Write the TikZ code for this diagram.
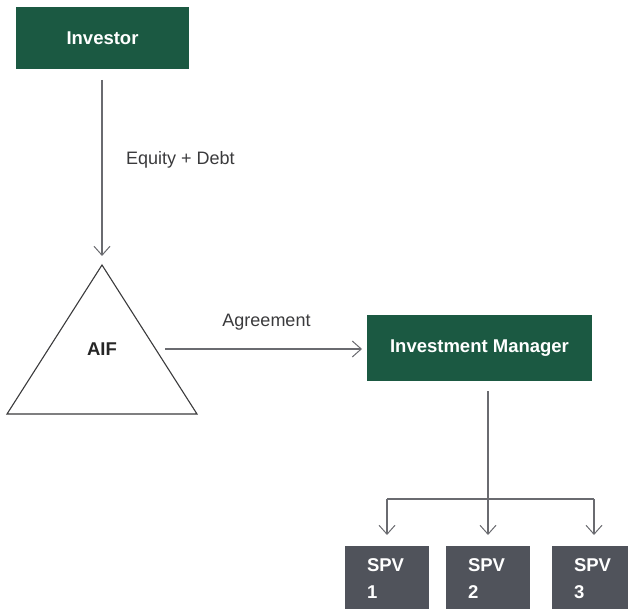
\documentclass[tikz,border=0pt]{standalone}
\usepackage{fontspec}
\setmainfont{Liberation Sans}
\usetikzlibrary{arrows.meta}
\definecolor{dgreen}{HTML}{1B5942}
\definecolor{spvgray}{HTML}{50535B}
\definecolor{linegray}{HTML}{6A6B70}
\definecolor{txtgray}{HTML}{3A3A3C}
\tikzset{
  greenbox/.style={fill=dgreen, text=white, font=\fontsize{18.5}{22}\selectfont\bfseries, inner sep=0pt},
  spvbox/.style={fill=spvgray, text=white, font=\fontsize{18.5}{27}\selectfont\bfseries, minimum width=84pt, minimum height=66pt, text width=40pt, inner xsep=22pt, inner ysep=0pt, align=left},
  conn/.style={draw=linegray, line width=1.1pt},
  arr/.style={conn, -{Straight Barb[length=9pt,width=16pt,line width=1pt]}},
  lbl/.style={text=txtgray, font=\fontsize{18}{22}\selectfont, inner sep=0pt}
}
\begin{document}
\begin{tikzpicture}[x=1pt,y=-1pt]
\useasboundingbox (0,0) rectangle (628,609);
% nodes
\node[greenbox, minimum width=173pt, minimum height=62pt] (inv) at (102.5,38) {Investor};
\node[greenbox, minimum width=225pt, minimum height=66pt] (im) at (479.5,348) {Investment Manager};
\node[font=\fontsize{18.5}{22}\selectfont\bfseries, text=black!85, inner sep=0pt] (aif) at (102,349) {AIF};
\coordinate (apex) at (102,265);
\coordinate (bl) at (7,414);
\coordinate (br) at (197,414);
\draw[draw=txtgray, line width=1.1pt] (apex) -- (br) -- (bl) -- cycle;
\node[spvbox] (s1) at (387,579) {SPV\\1};
\node[spvbox] (s2) at (488,579) {SPV\\2};
\node[spvbox] (s3) at (594,579) {SPV\\3};
% helper coordinates
\coordinate (invout) at (102,80);
\coordinate (apexin) at (102,256);
\coordinate (aifout) at (165,349);
\coordinate (imin) at (362,349);
\coordinate (imout) at (488,391);
\coordinate (hub) at (488,499);
\coordinate (h1) at (387,499);
\coordinate (h3) at (594,499);
\coordinate (t1) at (387,535);
\coordinate (t2) at (488,535);
\coordinate (t3) at (594,535);
% connectors
\draw[arr] (invout) -- (apexin);
\node[lbl, anchor=west] (eq) at (126,160) {Equity + Debt};
\draw[arr] (aifout) -- (imin);
\node[lbl] (agr) at (266.5,322) {Agreement};
\draw[conn] (imout) -- (hub);
\draw[conn] (h1) -- (h3);
\draw[arr] (h1) -- (t1);
\draw[arr] (hub) -- (t2);
\draw[arr] (h3) -- (t3);
\end{tikzpicture}
\end{document}
